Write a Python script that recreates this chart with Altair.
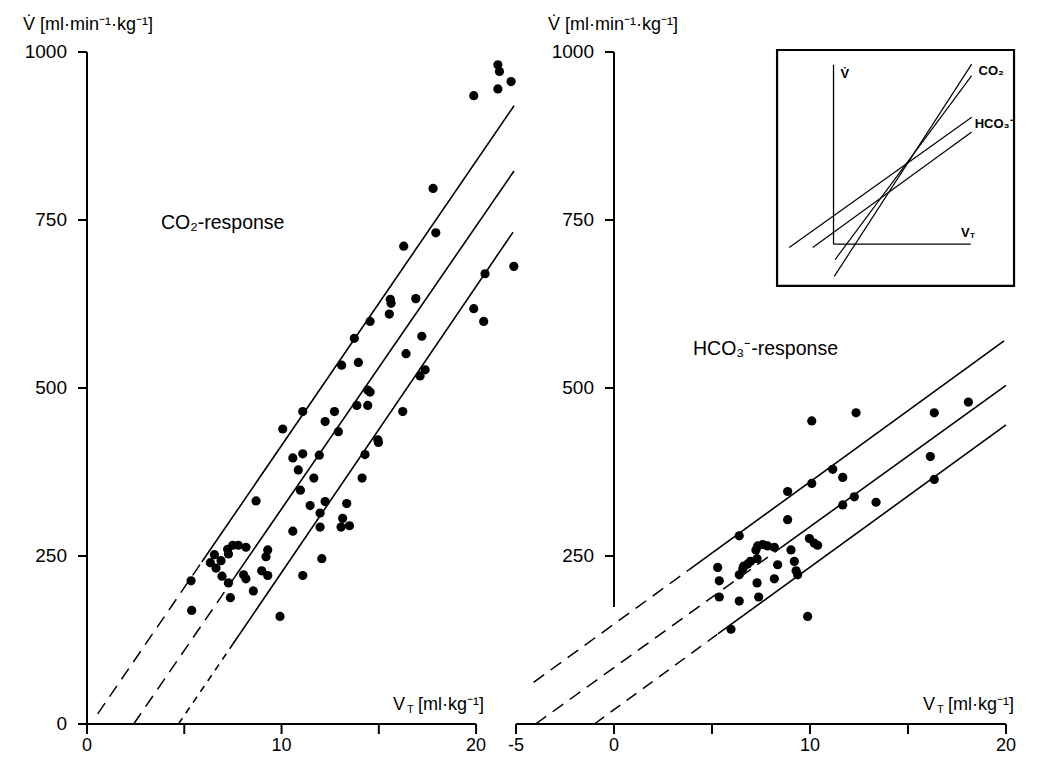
import altair as alt
import pandas as pd

FONT = "Liberation Sans"

# ---------------- Left panel: CO2-response (V_T [ml/kg], V [ml/min/kg]) ----------------
co2_vt = [10.06, 11.09, 12.72, 12.24, 12.92, 13.87, 14.43, 14.55, 16.23, 14.95, 14.98, 10.58,
          11.09, 11.94, 10.86, 11.66, 10.97, 14.29, 14.14, 8.69, 11.47, 12.24, 11.98, 13.35,
          13.14, 13.06, 13.49, 11.98, 10.58, 12.07, 11.09, 9.92, 5.35, 5.38, 6.55, 6.34, 6.89,
          6.63, 6.94, 7.27, 7.37, 7.23, 7.27, 7.49, 7.78, 8.17, 8.05, 8.17, 8.55, 8.98, 9.29,
          9.29, 9.20, 13.74, 13.09, 13.95, 16.40, 17.21, 17.38, 17.12, 14.43, 17.79, 17.93,
          16.28, 15.59, 15.63, 15.54, 16.90, 14.55, 20.46, 21.94, 19.88, 20.39, 21.12, 21.20,
          21.80, 21.12, 19.88]
co2_v = [439, 465, 465, 450, 435, 474, 474, 494, 465, 423, 419, 396, 402, 400, 378, 366, 348,
         401, 366, 332, 325, 331, 314, 328, 306, 293, 295, 293, 287, 246, 221, 160, 213, 169,
         252, 240, 243, 232, 220, 210, 188, 260, 253, 266, 266, 263, 222, 216, 198, 228, 221,
         259, 249, 574, 534, 538, 551, 577, 527, 518, 497, 797, 731, 711, 632, 626, 610, 633,
         599, 670, 681, 618, 599, 981, 971, 956, 945, 935]

# regression lines (upper, mean, lower): start, dashed->solid switch, end
co2_line_x0 = [0.55, 2.4, 4.7]
co2_line_y0 = [15, 0, 0]
co2_line_xs = [5.9, 7.6, 7.5]
co2_line_ys = [241, 219, 119]
co2_line_x1 = [21.95, 21.95, 21.9]
co2_line_y1 = [920, 823, 732]

# ---------------- Right panel: HCO3-response ----------------
hco3_vt = [10.09, 12.35, 16.34, 18.08, 16.14, 16.34, 11.16, 11.67, 10.09, 8.86, 12.26, 11.67,
           13.37, 8.86, 6.39, 9.97, 10.22, 10.39, 5.29, 5.37, 5.37, 6.39, 6.39, 5.97, 7.33, 7.59,
           7.84, 8.18, 7.24, 7.30, 6.96, 6.82, 6.62, 6.57, 8.35, 9.03, 9.20, 9.29, 9.37, 7.30,
           7.38, 8.18, 9.88]
hco3_v = [451, 463, 463, 479, 398, 364, 379, 367, 358, 346, 338, 326, 330, 304, 280, 276, 269,
          266, 233, 213, 189, 222, 183, 141, 265, 267, 265, 263, 259, 246, 242, 238, 235, 231,
          237, 259, 242, 228, 222, 210, 189, 216, 160]

hco3_line_x0 = [-4.1, -4.0, -1.0]
hco3_line_y0 = [62, 0, 0]
hco3_line_xs = [3.8, 8.5, 5.3]
hco3_line_ys = [229, 262, 134]
hco3_line_x1 = [19.9, 20.0, 20.0]
hco3_line_y1 = [570, 504, 445]

# inset (schematic) in right-panel units
inset_box = [8.32, 20.41, 652, 1003]          # x, x2, y, y2
inset_axis_x = [11.2, 11.2, 11.2, 18.2]       # vertical then horizontal axis
inset_axis_y = [981, 714, 714, 714]
inset_lines_x0 = [11.24, 11.28, 8.94, 10.14]
inset_lines_y0 = [666, 691, 709, 709]
inset_lines_x1 = [18.25, 18.25, 18.25, 18.25]
inset_lines_y1 = [982, 965, 903, 881]

# axis ticks / labels
left_x_ticks = [0, 5, 10, 15, 20]
left_x_label_vals = [0, 10, 20]
left_x_labels = ["0", "10", "20"]
right_x_ticks = [-5, 0, 5, 10, 15, 20]
right_x_label_vals = [-5, 0, 10, 20]
right_x_labels = ["-5", "0", "10", "20"]
left_y_ticks = [0, 250, 500, 750, 1000]
left_y_labels = ["0", "250", "500", "750", "1000"]
right_y_ticks = [250, 500, 750, 1000]
right_y_labels = ["250", "500", "750", "1000"]

# axis lines: (x, y, x2, y2) in data units
left_axis_lines = [(0, 0, 0, 1000), (0, 0, 20, 0)]
right_axis_lines = [(0, 174, 0, 1000), (-5, 0, 20, 0)]

y_title = "V\u0307 [ml\u00b7min\u207b\u00b9\u00b7kg\u207b\u00b9]"

PLOT_H = 672
Y_TICK_PX = 9     # length of y ticks (px)
X_TICK_PX = 10    # length of x ticks (px)


def seg_df(x0, y0, x1, y1):
    return pd.DataFrame({"x": x0, "y": y0, "x2": x1, "y2": y1})


def text_layer(X, Y, xs_, ys_, ts, size, weight="normal", align="left", baseline="middle",
               dx=0, dy=0):
    tdf = pd.DataFrame({"x": xs_, "y": ys_, "t": ts})
    return alt.Chart(tdf).mark_text(align=align, baseline=baseline, font=FONT, fontSize=size,
                                    fontWeight=weight, color="black", dx=dx, dy=dy).encode(
        x=X, y=Y, text="t:N")


def panel(xdomain, width, pts_x, pts_y, lx0, ly0, lxs, lys, lx1, ly1, lower_dash, texts,
          xticks, xlab_vals, xlabs, yticks, ylabs, axis_lines, extra_layers_fn):
    xs = alt.Scale(domain=xdomain, nice=False, zero=False)
    ys = alt.Scale(domain=[0, 1000], nice=False, zero=False)
    X = alt.X("x:Q", scale=xs, axis=None)
    Y = alt.Y("y:Q", scale=ys, axis=None)
    ux = Y_TICK_PX * (xdomain[1] - xdomain[0]) / width
    uy = X_TICK_PX * 1000.0 / PLOT_H

    layers = []
    # regression lines: dashed (extrapolated) and solid parts
    dash_df = seg_df(lx0[:2], ly0[:2], lxs[:2], lys[:2])
    layers.append(alt.Chart(dash_df).mark_rule(color="black", strokeWidth=1.5,
                                               strokeDash=[13, 8]).encode(
        x=X, y=Y, x2="x2:Q", y2="y2:Q"))
    low_df = seg_df(lx0[2:], ly0[2:], lxs[2:], lys[2:])
    layers.append(alt.Chart(low_df).mark_rule(color="black", strokeWidth=1.5,
                                              strokeDash=lower_dash).encode(
        x=X, y=Y, x2="x2:Q", y2="y2:Q"))
    solid_df = seg_df(lxs, lys, lx1, ly1)
    layers.append(alt.Chart(solid_df).mark_rule(color="black", strokeWidth=1.6).encode(
        x=X, y=Y, x2="x2:Q", y2="y2:Q"))
    # points
    pdf = pd.DataFrame({"x": pts_x, "y": pts_y})
    layers.append(alt.Chart(pdf).mark_circle(size=85, color="black", opacity=1).encode(x=X, y=Y))
    # axis lines + tick marks in one rule layer
    rows = [dict(x=a, y=b, x2=c, y2=d) for (a, b, c, d) in axis_lines]
    rows += [dict(x=float(v), y=0.0, x2=float(v), y2=-uy) for v in xticks]
    rows += [dict(x=-ux, y=float(v), x2=0.0, y2=float(v)) for v in yticks]
    al_df = pd.DataFrame(rows)
    layers.append(alt.Chart(al_df).mark_rule(color="black", strokeWidth=2).encode(
        x=X, y=Y, x2="x2:Q", y2="y2:Q"))
    # tick labels
    layers.append(text_layer(X, Y, xlab_vals, [0] * len(xlab_vals), xlabs, 18,
                             align="center", baseline="top", dy=13))
    layers.append(text_layer(X, Y, [0] * len(yticks), yticks, ylabs, 19,
                             align="right", baseline="middle", dx=-20))
    # annotations
    for (tx, ty, t, size, weight, dx, dy) in texts:
        layers.append(text_layer(X, Y, [tx], [ty], [t], size, weight=weight, dx=dx, dy=dy))
    layers += extra_layers_fn(X, Y)
    return alt.layer(*layers).properties(width=width, height=PLOT_H)


def no_extra(X, Y):
    return []


left_texts = [
    (-3.29, 1040, y_title, 18, "normal", 0, 0),
    (3.8, 745, "CO\u2082-response", 19.5, "normal", 0, 0),
    (15.73, 28, "V", 18, "normal", 0, 0),
    (15.73, 28, "T", 11, "normal", 14, 5),
    (15.73, 28, "[ml\u00b7kg\u207b\u00b9]", 18, "normal", 25, 0),
]

left = panel([0, 22], 428, co2_vt, co2_v,
             co2_line_x0, co2_line_y0, co2_line_xs, co2_line_ys, co2_line_x1, co2_line_y1,
             [7, 6], left_texts, left_x_ticks, left_x_label_vals, left_x_labels,
             left_y_ticks, left_y_labels, left_axis_lines, no_extra)


def right_extra(X, Y):
    out = []
    box_df = pd.DataFrame({"x": [inset_box[0]], "x2": [inset_box[1]],
                           "y": [inset_box[2]], "y2": [inset_box[3]]})
    out.append(alt.Chart(box_df).mark_rect(fill="white", stroke="black", strokeWidth=2.2).encode(
        x=X, y=Y, x2="x2:Q", y2="y2:Q"))
    ax_df = pd.DataFrame({"x": inset_axis_x[0::2], "y": inset_axis_y[0::2],
                          "x2": inset_axis_x[1::2], "y2": inset_axis_y[1::2]})
    out.append(alt.Chart(ax_df).mark_rule(color="black", strokeWidth=1.3).encode(
        x=X, y=Y, x2="x2:Q", y2="y2:Q"))
    il_df = seg_df(inset_lines_x0, inset_lines_y0, inset_lines_x1, inset_lines_y1)
    out.append(alt.Chart(il_df).mark_rule(color="black", strokeWidth=1.2).encode(
        x=X, y=Y, x2="x2:Q", y2="y2:Q"))
    itexts = [
        (11.55, 968, "V\u0307", 13, "bold", 0, 0),
        (17.7, 731, "V", 13, "bold", 0, 0),
        (17.7, 731, "T", 8, "bold", 9, 3),
        (18.6, 972, "CO\u2082", 13, "bold", 0, 0),
        (18.4, 893, "HCO\u2083\u207b", 13, "bold", 0, 0),
    ]
    for (tx, ty, t, size, weight, dx, dy) in itexts:
        out.append(text_layer(X, Y, [tx], [ty], [t], size, weight=weight, dx=dx, dy=dy))
    return out


right_texts = [
    (-3.37, 1040, y_title, 18, "normal", 0, 0),
    (4.03, 558, "HCO\u2083\u207b-response", 19.5, "normal", 0, 0),
    (15.77, 28, "V", 18, "normal", 0, 0),
    (15.77, 28, "T", 11, "normal", 14, 5),
    (15.77, 28, "[ml\u00b7kg\u207b\u00b9]", 18, "normal", 25, 0),
]

right = panel([-5, 20], 490, hco3_vt, hco3_v,
              hco3_line_x0, hco3_line_y0, hco3_line_xs, hco3_line_ys, hco3_line_x1, hco3_line_y1,
              [12, 8], right_texts, right_x_ticks, right_x_label_vals, right_x_labels,
              right_y_ticks, right_y_labels, right_axis_lines, right_extra)

chart = alt.hconcat(left, right, spacing=1, bounds="flush").properties(
    padding={"left": 14, "top": 8, "right": 4, "bottom": 0}
).configure_view(stroke=None)

chart.save("out.html", embed_options={"renderer": "svg", "actions": False})
